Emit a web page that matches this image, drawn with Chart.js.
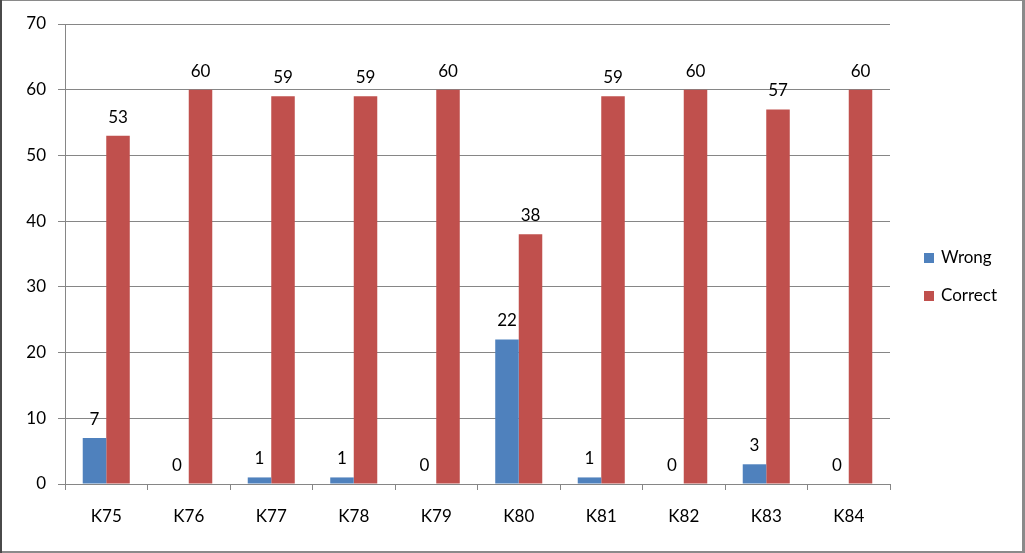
<!DOCTYPE html>
<html>
<head>
<meta charset="utf-8">
<script src="https://cdn.jsdelivr.net/npm/chart.js@4/dist/chart.umd.min.js"></script>
<style>
  html, body { margin: 0; padding: 0; background: #fff; }
  #wrap { position: relative; width: 1025px; height: 553px; }
  canvas { display: block; }
</style>
</head>
<body>
<div id="wrap"><canvas id="c" width="1025" height="553"></canvas></div>
<script>
const categories = ['K75','K76','K77','K78','K79','K80','K81','K82','K83','K84'];
const wrongValues = [7, 0, 1, 1, 0, 22, 1, 0, 3, 0];
const correctValues = [53, 60, 59, 59, 60, 38, 59, 60, 57, 60];
const seriesNames = ['Wrong', 'Correct'];
const yTicks = [0, 10, 20, 30, 40, 50, 60, 70];

const FONT = 'Lato, "Open Sans", sans-serif';
const GRID = '#868686';

const bgBorder = {
  id: 'bgBorder',
  beforeDraw(chart) {
    const ctx = chart.ctx;
    ctx.save();
    ctx.fillStyle = '#fff';
    ctx.fillRect(0, 0, chart.width, chart.height);
    ctx.restore();
  },
  afterDraw(chart) {
    const ctx = chart.ctx, w = chart.width, h = chart.height;
    ctx.save();
    ctx.fillStyle = '#8a8a8a';
    ctx.fillRect(0, 0, w, 1);          // top
    ctx.fillRect(w - 3, 0, 3, h);      // right
    ctx.fillRect(0, h - 2, w, 2);      // bottom
    ctx.fillStyle = '#4a4a4a';
    ctx.fillRect(0, 0, 2, h);          // left
    ctx.restore();
  }
};

const valueLabels = {
  id: 'valueLabels',
  afterDatasetsDraw(chart) {
    const ctx = chart.ctx;
    ctx.save();
    ctx.font = '17px ' + FONT;
    ctx.fillStyle = '#000';
    ctx.textAlign = 'center';
    ctx.textBaseline = 'alphabetic';
    chart.data.datasets.forEach((ds, di) => {
      const meta = chart.getDatasetMeta(di);
      meta.data.forEach((el, i) => {
        ctx.fillText(String(ds.data[i]), el.x, el.y - 13);
      });
    });
    ctx.restore();
  }
};

const customLegend = {
  id: 'customLegend',
  afterDraw(chart) {
    const ctx = chart.ctx;
    ctx.save();
    ctx.font = '17px ' + FONT;
    ctx.textBaseline = 'middle';
    ctx.textAlign = 'left';
    const x0 = 924, yStart = 258, step = 38;
    chart.data.datasets.forEach((ds, i) => {
      const y = yStart + i * step;
      ctx.fillStyle = ds.backgroundColor;
      ctx.fillRect(x0, y - 5, 10, 10);
      ctx.fillStyle = '#000';
      ctx.fillText(ds.label, x0 + 17, y);
    });
    ctx.restore();
  }
};

new Chart(document.getElementById('c'), {
  type: 'bar',
  data: {
    labels: categories,
    datasets: [
      { label: seriesNames[0], data: wrongValues, backgroundColor: '#4F81BD',
        categoryPercentage: 0.57, barPercentage: 1.0 },
      { label: seriesNames[1], data: correctValues, backgroundColor: '#C0504D',
        categoryPercentage: 0.57, barPercentage: 1.0 }
    ]
  },
  options: {
    responsive: false,
    animation: false,
    devicePixelRatio: 1,
    layout: { padding: { left: 0, top: 24, right: 135, bottom: 0 } },
    plugins: {
      legend: { display: false },
      tooltip: { enabled: false }
    },
    scales: {
      x: {
        offset: true,
        grid: { display: true, drawOnChartArea: false, drawTicks: true, tickLength: 6, color: GRID, offset: true },
        border: { display: true, color: GRID, width: 1 },
        ticks: { color: '#000', font: { family: FONT, size: 17 }, padding: 16, maxRotation: 0 },
        afterFit(scale) { scale.height = 553 - 484; }
      },
      y: {
        min: 0, max: 70,
        afterBuildTicks(scale) { scale.ticks = yTicks.map(v => ({ value: v })); },
        grid: { color: GRID, drawTicks: true, tickLength: 7 },
        border: { display: true, color: GRID, width: 1 },
        ticks: { color: '#000', font: { family: FONT, size: 17 }, padding: 12 },
        afterFit(scale) { scale.width = 65; }
      }
    }
  },
  plugins: [bgBorder, valueLabels, customLegend]
});
</script>
</body>
</html>
